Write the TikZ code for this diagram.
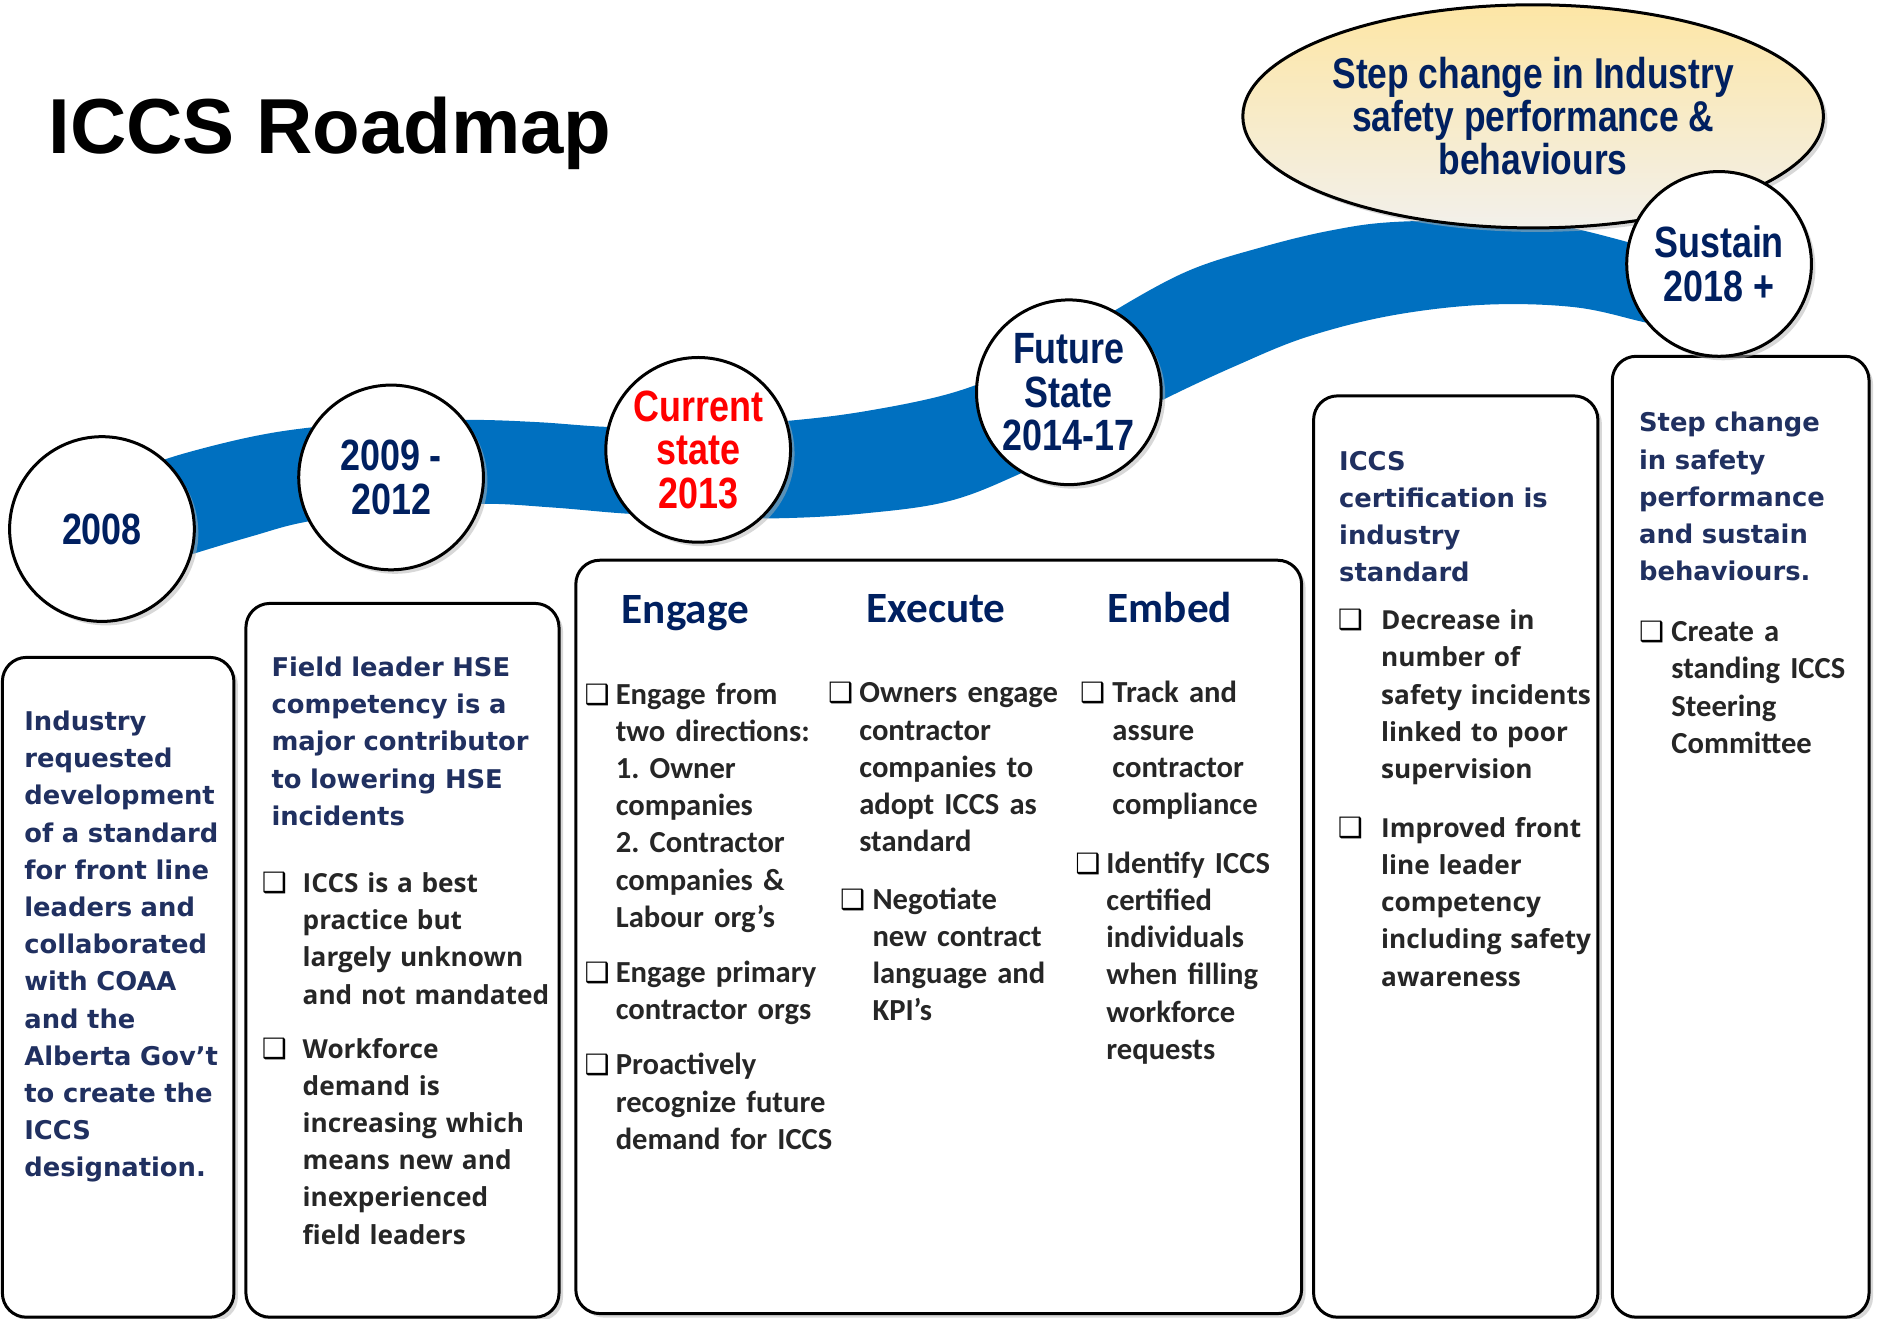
\documentclass[tikz,border=0pt]{standalone}
\usepackage{fontspec}
\usetikzlibrary{shapes.geometric,shadows}
\newfontfamily\narrowf{Liberation Sans}[FakeStretch=0.82]
\newfontfamily\arialf{Liberation Sans}
\newfontfamily\verdf{DejaVu Sans}
\newfontfamily\calf{Carlito}
\newfontfamily\openf{Open Sans}
\definecolor{bandblue}{RGB}{0,112,192}
\definecolor{cnavy}{RGB}{0,32,96}
\definecolor{hnavy}{RGB}{32,48,96}
\definecolor{btext}{RGB}{38,38,38}
\definecolor{goaltop}{RGB}{253,230,165}
\definecolor{goalbot}{RGB}{242,240,235}
\frenchspacing
\tikzset{
  shd/.style={drop shadow={shadow xshift=2pt, shadow yshift=-2pt, fill=black!30, opacity=0.5}},
  circ/.style={circle, draw=black, line width=1.5pt, fill=white, minimum size=92.4pt, inner sep=0pt,
    align=center, font=\narrowf\bfseries\fontsize{21.9}{21.6}\selectfont, text=cnavy, shd},
  panel/.style={draw=black, line width=1.5pt, rounded corners=12pt, fill=white, shd},
  hdr/.style={anchor=base west, inner sep=0pt, text width=300pt, align=left,
    font=\verdf\bfseries\fontsize{12.9}{18.6}\selectfont, text=hnavy},
  blt/.style={anchor=base west, inner sep=0pt, text width=300pt, align=left,
    font=\openf\bfseries\fontsize{13.1}{18.6}\selectfont, text=btext},
  cal/.style={anchor=base west, inner sep=0pt, text width=300pt, align=left,
    font=\calf\bfseries\fontsize{15.3}{18.6}\selectfont, text=btext},
  colhdr/.style={anchor=base west, inner sep=0pt, font=\calf\bfseries\fontsize{21.6}{21.6}\selectfont, text=cnavy},
  chk/.style={anchor=base west, inner sep=0pt, font=\verdf\bfseries\fontsize{14}{14}\selectfont, text=black},
}
\begin{document}
\begin{tikzpicture}[x=0.6pt,y=-0.6pt]
\useasboundingbox (0,0) rectangle (1568,1099.5);
% blue ribbon
\fill[bandblue] plot[smooth, tension=0.6] coordinates {(110,393) (150,379) (210,364) (262,356) (326,351) (395,350) (450,352) (510,356) (582,356) (655,351) (720,343) (792,328) (850,306) (891,285) (929,259) (990,226) (1052,206) (1110,192) (1163,185) (1250,184) (1300,188) (1365,204) (1400,215)}
  -- plot[smooth, tension=0.6] coordinates {(1400,276) (1368,268) (1312,256) (1238,254) (1160,263) (1089,281) (1030,305) (970,333) (920,360) (850,395) (790,418) (720,428) (650,432) (582,431) (520,428) (460,423) (400,420) (326,425) (255,435) (210,447) (160,462) (110,478)} -- cycle;
% panels
\path[panel] (2,548) rectangle (195,1098);
\path[panel] (205,503) rectangle (466,1098);
\path[panel] (480,467) rectangle (1085,1095);
\path[panel] (1095,330) rectangle (1332,1098);
\path[panel] (1344,297) rectangle (1558,1098);
% title
\node[anchor=base west, inner sep=0pt, font=\arialf\bfseries\fontsize{39}{39}\selectfont] (title) at (40,128) {ICCS Roadmap};
% milestones
\node[circ] (c1) at (85,441) {2008};
\node[circ] (c2) at (326,398) {2009 -\\2012};
\node[circ, text=red] (c3) at (582,375) {Current\\state\\2013};
\node[circ] (c4) at (891,327) {Future\\State\\2014-17};
\node[ellipse, draw=black, line width=1.5pt, minimum width=290.4pt, minimum height=111.6pt, inner sep=0pt,
  top color=goaltop, bottom color=goalbot, shd, align=center,
  font=\narrowf\bfseries\fontsize{21.6}{21.6}\selectfont, text=cnavy] (goal) at (1278,97)
  {Step change in Industry\\safety performance \&\\behaviours};
\node[circ] (c5) at (1433,220) {Sustain\\2018 +};
% box 1
\node[hdr] (t1) at (20,609) {Industry\\requested\\development\\of a standard\\for front line\\leaders and\\collaborated\\with COAA\\and the\\Alberta Gov’t\\to create the\\ICCS\\designation.};
% box 2
\node[hdr] (t2) at (226,564) {Field leader HSE\\competency is a\\major contributor\\to lowering HSE\\incidents};
\node[chk] (k21) at (218,744) {❑};
\node[blt] (b21) at (252,744) {ICCS is a best\\practice but\\largely unknown\\and not mandated};
\node[chk] (k22) at (218,882) {❑};
\node[blt] (b22) at (252,882) {Workforce\\demand is\\increasing which\\means new and\\inexperienced\\field leaders};
% box 3
\node[colhdr] (h31) at (518,520) {Engage};
\node[colhdr] (h32) at (722,519) {Execute};
\node[colhdr] (h33) at (923,519) {Embed};
\node[chk] (k31) at (487,587) {❑};
\node[cal] (c31) at (513,587) {Engage from\\two directions:\\1. Owner\\companies\\2. Contractor\\companies \&\\Labour org’s};
\node[chk] (k32) at (487,819) {❑};
\node[cal] (c32) at (513,819) {Engage primary\\contractor orgs};
\node[chk] (k33) at (487,896) {❑};
\node[cal] (c33) at (513,896) {Proactively\\recognize future\\demand for ICCS};
\node[chk] (k34) at (690,586) {❑};
\node[cal] (c34) at (716,586) {Owners engage\\contractor\\companies to\\adopt ICCS as\\standard};
\node[chk] (k35) at (700,758) {❑};
\node[cal] (c35) at (727,758) {Negotiate\\new contract\\language and\\KPI’s};
\node[chk] (k36) at (900,586) {❑};
\node[cal] (c36) at (927,586) {Track and\\assure\\contractor\\compliance};
\node[chk] (k37) at (896,728) {❑};
\node[cal] (c37) at (922,728) {Identify ICCS\\certified\\individuals\\when filling\\workforce\\requests};
% box 4
\node[hdr] (t4) at (1116,392) {ICCS\\certification is\\industry\\standard};
\node[chk] (k41) at (1115,525) {❑};
\node[blt] (b41) at (1151,525) {Decrease in\\number of\\safety incidents\\linked to poor\\supervision};
\node[chk] (k42) at (1115,698) {❑};
\node[blt] (b42) at (1151,698) {Improved front\\line leader\\competency\\including safety\\awareness};
% box 5
\node[hdr] (t5) at (1366,360) {Step change\\in safety\\performance\\and sustain\\behaviours.};
\node[chk] (k51) at (1366,535) {❑};
\node[cal] (c51) at (1393,535) {Create a\\standing ICCS\\Steering\\Committee};
\end{tikzpicture}
\end{document}
